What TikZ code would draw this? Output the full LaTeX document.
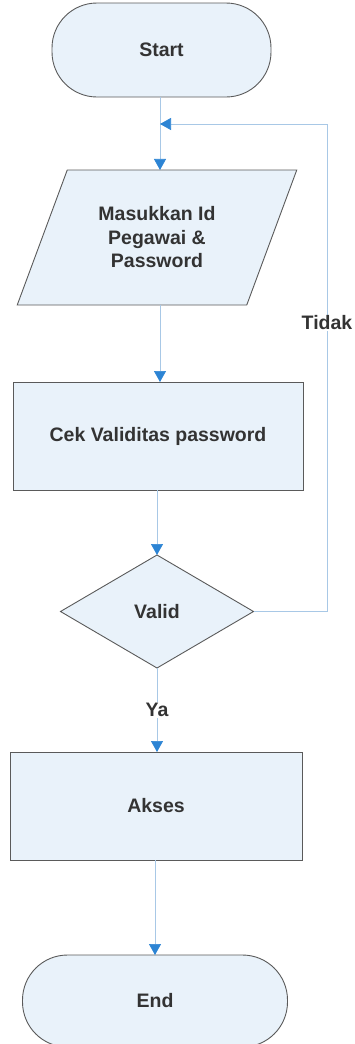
\documentclass[tikz,border=0pt]{standalone}
\usepackage{fontspec}
\setmainfont{Liberation Sans}
\usetikzlibrary{shapes.geometric,arrows.meta}
\definecolor{fillc}{HTML}{E9F2FA}
\definecolor{edgec}{HTML}{5A5A5A}
\definecolor{linec}{HTML}{A8C8E6}
\definecolor{tipc}{HTML}{2C84D4}
\definecolor{txtc}{HTML}{333333}
\begin{document}
\begin{tikzpicture}[x=1pt,y=-1pt,
  box/.style={draw=edgec, line width=0.9pt, fill=fillc, text=txtc,
    font=\bfseries\fontsize{19.5}{23.5}\selectfont, inner sep=0pt, outer sep=0pt, align=center},
  term/.style={box, rectangle, rounded corners=45pt},
  proc/.style={box, rectangle},
  io/.style={box, trapezium, trapezium left angle=62, trapezium right angle=118, trapezium stretches=true},
  dec/.style={box, diamond, aspect=1.7},
  arr/.style={draw=linec, line width=0.7pt, -{Triangle[width=12pt,length=11pt,color=tipc]}},
  conn/.style={draw=linec, line width=0.7pt},
  lbl/.style={fill=white, text=txtc, font=\bfseries\fontsize{19.5}{23.5}\selectfont, inner sep=1pt}
]
\useasboundingbox (0,0) rectangle (355,1044);
\node[term, minimum width=219pt, minimum height=94pt] (start) at (161.5,50) {Start};
\coordinate (j) at (160,124);
\node[io, minimum width=280pt, minimum height=135pt] (in) at (157,237.5) {Masukkan Id\\Pegawai \&\\Password};
\node[proc, minimum width=290pt, minimum height=108pt] (cek) at (158,436) {Cek Validitas password};
\node[dec, minimum width=193pt, minimum height=113pt] (valid) at (157,611.5) {Valid};
\node[proc, minimum width=292pt, minimum height=108pt] (akses) at (156,806) {Akses};
\node[term, minimum width=265pt, minimum height=92pt] (end) at (155,1001) {End};
\coordinate (lr) at (327,611.5);

\draw[arr] (start.south -| j) -- (in.north -| j);
\draw[arr] (in.south -| j) -- (cek.north -| j);
\draw[arr] (cek.south -| valid.north) -- (valid.north);
\draw[arr] (valid.east) -- (lr) |- (j);
\draw[arr] (valid.south) -- (valid.south |- akses.north);
\draw[arr] (akses.south -| end.north) -- (end.north);

\node[lbl] (tidak) at (327,323) {Tidak};
\node[lbl] (ya) at (157,710) {Ya};
\end{tikzpicture}
\end{document}
